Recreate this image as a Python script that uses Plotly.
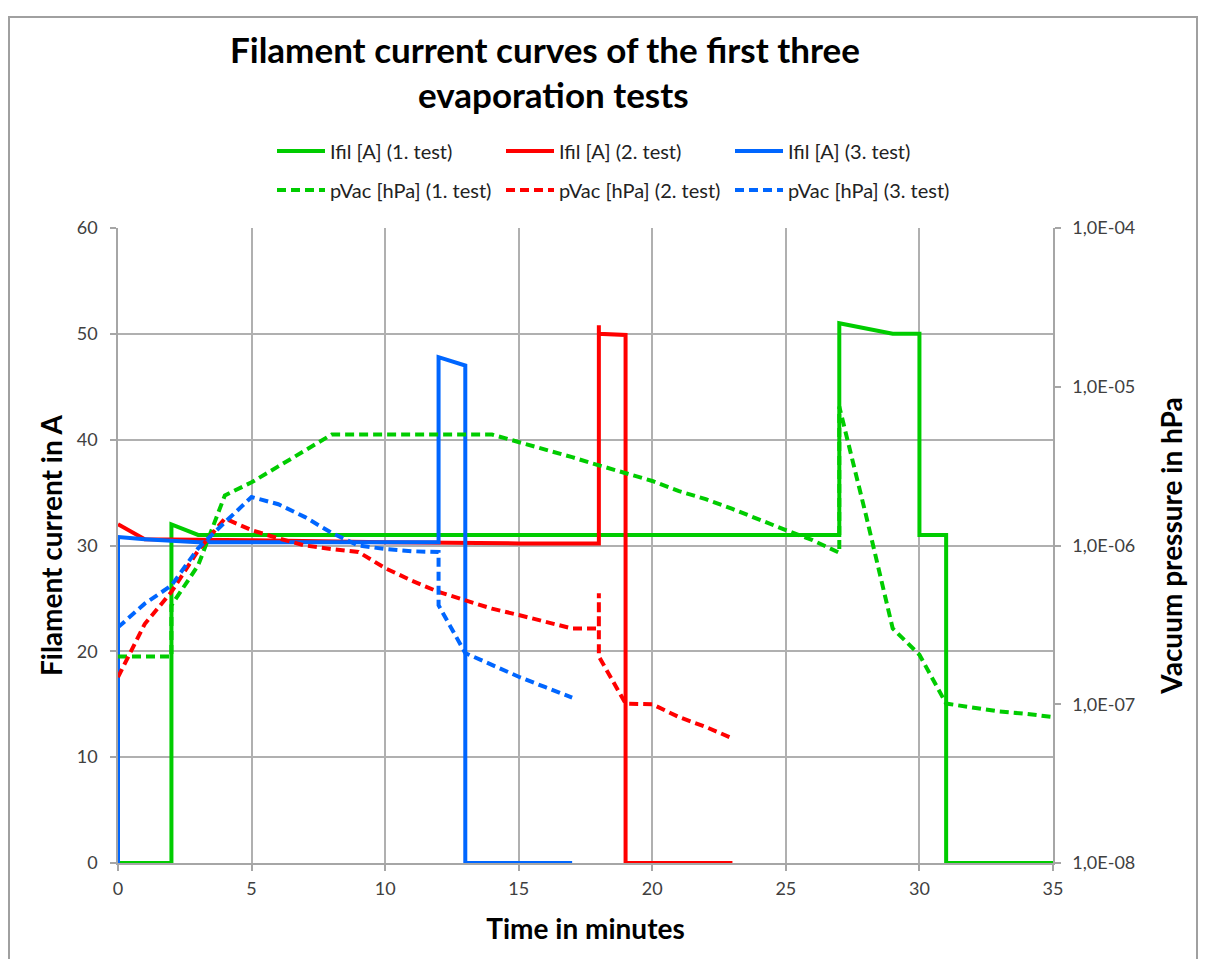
import plotly.graph_objects as go

# ---------------- data ----------------
# Filament current (A)
t_ifil1 = [0, 2, 2, 3, 27, 27, 29, 30, 30, 31, 31, 35]
ifil1 = [0, 0, 32, 31, 31, 51, 50, 50, 31, 31, 0, 0]

t_ifil2 = [0, 1, 5, 10, 15, 18, 18, 18, 19, 19, 23]
ifil2 = [32, 30.6, 30.5, 30.3, 30.2, 30.2, 50.8, 50, 49.9, 0, 0]

t_ifil3 = [0, 0, 1, 3, 12, 12, 13, 13, 17]
ifil3 = [0, 30.8, 30.6, 30.3, 30.3, 47.8, 47, 0, 0]

# Vacuum pressure (hPa)
t_p1 = [0, 2, 2, 3, 4, 5, 6, 7, 8, 14, 15, 16, 17, 18, 19, 20, 21, 22, 23, 24, 25, 26, 27,
        27, 28, 29, 30, 31, 32, 33, 34, 35]
p1 = [2.0e-7, 2.0e-7, 4.2e-7, 7.5e-7, 2.07e-6, 2.5e-6, 3.15e-6, 3.95e-6, 5.0e-6, 5.0e-6,
      4.5e-6, 4.05e-6, 3.6e-6, 3.2e-6, 2.85e-6, 2.55e-6, 2.2e-6, 1.96e-6, 1.7e-6, 1.45e-6,
      1.25e-6, 1.08e-6, 9.0e-7, 7.5e-6, 1.55e-6, 3.0e-7, 2.05e-7, 1.01e-7, 9.5e-8, 9.0e-8,
      8.7e-8, 8.3e-8]

t_p2 = [0, 1, 2, 3, 4, 5, 6, 7, 8, 9, 10, 11, 12, 13, 14, 15, 16, 17, 18, 18, 18, 19, 20,
        21, 22, 23]
p2 = [1.48e-7, 3.2e-7, 5.1e-7, 9.3e-7, 1.48e-6, 1.25e-6, 1.11e-6, 1.0e-6, 9.5e-7, 9.1e-7,
      7.2e-7, 6.0e-7, 5.1e-7, 4.5e-7, 4.0e-7, 3.65e-7, 3.3e-7, 3.0e-7, 3.0e-7, 5.0e-7,
      2.0e-7, 1.01e-7, 1.0e-7, 8.3e-8, 7.2e-8, 6.1e-8]

t_p3 = [0, 1, 2, 3, 4, 5, 6, 7, 8, 9, 10, 11, 12, 12, 13, 14, 15, 16, 17]
p3 = [3.05e-7, 4.3e-7, 5.6e-7, 9.6e-7, 1.4e-6, 2.02e-6, 1.82e-6, 1.51e-6, 1.2e-6, 1.0e-6,
      9.5e-7, 9.2e-7, 9.1e-7, 4.2e-7, 2.1e-7, 1.76e-7, 1.49e-7, 1.28e-7, 1.1e-7]

x_ticks = [0, 5, 10, 15, 20, 25, 30, 35]
y_ticks = [0, 10, 20, 30, 40, 50, 60]
p_tickvals = [1e-8, 1e-7, 1e-6, 1e-5, 1e-4]
p_ticktext = ["1,0E-08", "1,0E-07", "1,0E-06", "1,0E-05", "1,0E-04"]

names_ifil = ["Ifil [A] (1. test)", "Ifil [A] (2. test)", "Ifil [A] (3. test)"]
names_p = ["pVac [hPa] (1. test)", "pVac [hPa] (2. test)", "pVac [hPa] (3. test)"]
colors = ["#00CC00", "#FF0000", "#0066FF"]

FONT = "Lato"
W, H = 1196, 951
L, R, T, B = 110, 151, 220, 96
PW, PH = W - L - R, H - T - B


def px(xf):
    return (xf - L) / PW


def py(yf):
    return (H - B - yf) / PH


fig = go.Figure()
for t, v, n, c in zip([t_ifil1, t_ifil2, t_ifil3], [ifil1, ifil2, ifil3], names_ifil, colors):
    fig.add_trace(go.Scatter(x=t, y=v, name=n, mode="lines",
                             line=dict(color=c, width=4), legend="legend"))
for t, v, n, c in zip([t_p1, t_p2, t_p3], [p1, p2, p3], names_p, colors):
    fig.add_trace(go.Scatter(x=t, y=v, name=n, mode="lines", yaxis="y2",
                             line=dict(color=c, width=4, dash="9px,5px"), legend="legend2"))

axis_common = dict(showline=True, linecolor="#A6A6A6", linewidth=1.5,
                   ticks="outside", tickcolor="#A6A6A6", ticklen=6, tickwidth=1.5,
                   tickfont=dict(family=FONT, size=18, color="#404040"),
                   zeroline=False)

leg_common = dict(orientation="h", xanchor="left", yanchor="middle", itemwidth=48,
                  entrywidth=166, font=dict(family=FONT, size=20, color="#222222"),
                  bgcolor="rgba(0,0,0,0)")

fig.update_layout(
    width=W, height=H,
    margin=dict(l=L, r=R, t=T, b=B),
    paper_bgcolor="white", plot_bgcolor="white",
    font=dict(family=FONT, color="#000000"),
    xaxis=dict(range=[0, 35], tickvals=x_ticks, showgrid=True, gridcolor="#B0B0B0",
               gridwidth=1.5, ticklabelstandoff=3,
               title=dict(text="<b>Time in minutes</b>", font=dict(family=FONT, size=28),
                          standoff=21),
               **axis_common),
    yaxis=dict(range=[0, 60], tickvals=y_ticks, showgrid=True, gridcolor="#B0B0B0",
               gridwidth=1.5, ticklabelstandoff=9,
               title=dict(text="<b>Filament current in A</b>", font=dict(family=FONT, size=28),
                          standoff=6),
               **axis_common),
    yaxis2=dict(type="log", range=[-8, -4], overlaying="y", side="right",
                tickvals=p_tickvals, ticktext=p_ticktext, showgrid=False,
                ticklabelstandoff=8,
                title=dict(text="<b>Vacuum pressure in hPa</b>", font=dict(family=FONT, size=28),
                           standoff=28),
                **axis_common),
    legend=dict(x=px(264), y=py(143), **leg_common),
    legend2=dict(x=px(264), y=py(182), **leg_common),
    showlegend=True,
)

# Title (two centred lines)
fig.add_annotation(text="<b>Filament current curves of the first three</b>",
                   xref="paper", yref="paper", x=px(537), y=py(41),
                   xanchor="center", yanchor="middle", showarrow=False,
                   font=dict(family=FONT, size=35, color="#000000"))
fig.add_annotation(text="<b>evaporation tests</b>",
                   xref="paper", yref="paper", x=px(545), y=py(86),
                   xanchor="center", yanchor="middle", showarrow=False,
                   font=dict(family=FONT, size=35, color="#000000"))

# chart frame
fig.add_shape(type="rect", xref="paper", yref="paper",
              x0=px(1), x1=px(1189), y0=py(H + 30), y1=py(9),
              line=dict(color="#A0A0A0", width=2), layer="below")

fig.write_html("out.html")
